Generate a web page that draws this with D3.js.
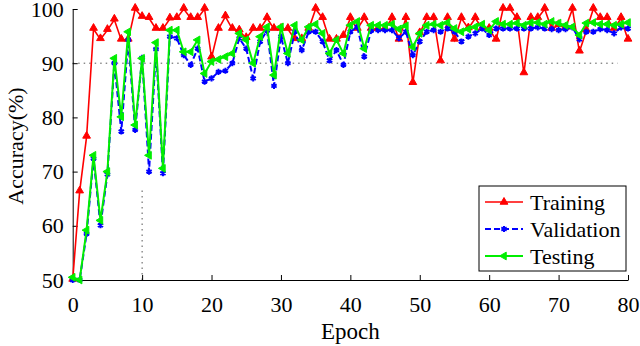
<!DOCTYPE html>
<html>
<head>
<meta charset="utf-8">
<script src="https://cdn.jsdelivr.net/npm/d3@7"></script>
<style>
  body { margin: 0; background: #fff; }
  .axis path, .axis line { stroke: #000; }
</style>
</head>
<body>
<div id="chart"></div>
<script>
// accuracy per epoch (0..80)
const epochs = d3.range(0, 81);
const training = [50,66.3,76.4,96.3,94.4,96.1,98,94.3,94.3,100,
  98.5,98.3,96.3,96.3,98.2,98.3,100,98.3,98.3,100,
  91,96.3,98.6,96.3,96,94.6,96.3,96.3,98.3,96.3,
  96.3,96.3,94.4,94.4,96.3,100,98.3,94.3,94.3,95,
  98.3,96.3,98.3,96.3,96.3,96.3,98.3,94.3,98.3,86.3,
  95.5,98.3,98.3,90.3,98.3,94.3,98.3,96.4,98.3,96.4,
  96.3,94.3,100,100,98.3,88.1,98.3,98.3,100,96.3,
  97,96.5,100,92.1,96,100,98.3,98.3,96.3,98.3,94.3];
const validation = [50,50,58.5,72.4,60.1,69.5,90,77.4,94.3,77.7,
  91,70,92.6,69.7,94.9,94.6,91.5,89.7,92.7,86.6,
  87.2,88.4,88.6,90,94.6,92.7,87.2,94,96,85.8,
  94.9,90,95.8,92.4,95.8,95.8,94,90.5,92.4,89.7,
  95.8,96.7,91.2,96,96.1,96.1,96.1,94.6,95.8,91.5,
  94,95.8,96.1,95.8,96.4,95.8,94,94.9,95.5,96.4,
  95.2,96.4,96.4,96.4,96.4,96.4,96.4,96.6,96.4,96.3,
  96.1,96.3,96.6,94.4,95.8,95.8,96.3,96.1,95.5,96.6,96.4];
const testing = [50.5,50,59.2,73,61,70,90.9,80.1,95.8,78.6,
  90.9,73,93.8,70.6,96.1,96.1,92.1,92.1,94.3,88.1,
  90.3,90.7,91.2,91.8,95.5,94.3,90,94.9,96.7,87.8,
  96.7,91.8,97,94.3,96.7,97.2,95.5,91.8,94.3,91.8,
  97,97.7,92.7,97,97,97,97.2,96.3,96.9,93,
  95.5,97,97.2,97,97.5,96.4,95.8,96.3,96.7,97.2,
  96.1,97.7,97.2,97.2,97.4,97,97.5,97.5,97.2,97.7,
  97.4,97,96.7,95.2,97.4,97.5,97.2,97.2,97,97.2,97.5];
const xTicks = [0,10,20,30,40,50,60,70,80];
const yTicks = [50,60,70,80,90,100];
const seriesNames = ["Training", "Validation", "Testing"];

const FONT = "'Times New Roman', 'Liberation Serif', 'DejaVu Serif', serif";
const W = 640, H = 346;
const margin = {top: 9, right: 12, bottom: 66, left: 72.7};
const width = W - margin.left - margin.right;
const height = H - margin.top - margin.bottom;

const svg = d3.select("#chart").append("svg")
    .attr("width", W).attr("height", H)
    .attr("font-family", FONT)
  .append("g")
    .attr("transform", `translate(${margin.left}, ${margin.top})`);

const x = d3.scaleLinear().domain([0, 80]).range([0, width]);
const y = d3.scaleLinear().domain([50, 100]).range([height, 0]);

// guide lines (dotted)
svg.append("line")
    .attr("x1", x(0)).attr("x2", x(78.5))
    .attr("y1", y(90)).attr("y2", y(90))
    .attr("stroke", "#555").attr("stroke-width", 1).attr("stroke-dasharray", "1.5,4");
svg.append("line")
    .attr("x1", x(10)).attr("x2", x(10))
    .attr("y1", y(50)).attr("y2", y(67))
    .attr("stroke", "#555").attr("stroke-width", 1).attr("stroke-dasharray", "1.5,4");

// axes, ticks pointing inward
svg.append("g")
    .attr("class", "axis")
    .attr("transform", `translate(0, ${height})`)
    .call(d3.axisBottom(x).tickValues(xTicks).tickSizeInner(-5).tickSizeOuter(0).tickPadding(16))
    .call(g => g.attr("font-family", FONT).attr("font-size", 22));

svg.append("g")
    .attr("class", "axis")
    .call(d3.axisLeft(y).tickValues(yTicks).tickSizeInner(-5).tickSizeOuter(0).tickPadding(9))
    .call(g => g.attr("font-family", FONT).attr("font-size", 22));

const series = [
  {name: seriesNames[0], values: training, color: "#ff0000", dash: null, width: 1.6, marker: "up"},
  {name: seriesNames[1], values: validation, color: "#0000ff", dash: "6,3", width: 2, marker: "star"},
  {name: seriesNames[2], values: testing, color: "#00ee00", dash: null, width: 2, marker: "left"}
];

const triangle = d3.symbol().type(d3.symbolTriangle).size(26);
const star = d3.symbol().type(d3.symbolAsterisk).size(26);

function drawMarker(sel, s) {
  if (s.marker === "star") {
    sel.attr("d", star).attr("fill", "none").attr("stroke", s.color).attr("stroke-width", 2);
  } else {
    sel.attr("d", triangle).attr("fill", s.color).attr("stroke", s.color).attr("stroke-width", 1);
  }
}

const line = d3.line().x((d, i) => x(epochs[i])).y(d => y(d));

series.forEach(function(s) {
  svg.append("path")
      .datum(s.values)
      .attr("d", line)
      .attr("fill", "none")
      .attr("stroke", s.color)
      .attr("stroke-width", s.width)
      .attr("stroke-dasharray", s.dash);

  const rot = s.marker === "left" ? -90 : 0;
  svg.selectAll(null)
      .data(s.values)
      .enter()
      .append("path")
      .attr("transform", (d, i) => `translate(${x(epochs[i])}, ${y(d) + (s.marker === "up" ? -1 : 0)}) rotate(${rot})`)
      .call(drawMarker, s);
});

// legend
const lg = svg.append("g").attr("transform", `translate(${479 - margin.left}, ${186 - margin.top})`);
lg.append("rect")
    .attr("width", 147).attr("height", 85)
    .attr("fill", "#fff").attr("stroke", "#000").attr("stroke-width", 1);
series.forEach(function(s, i) {
  const cy = 16 + i * 27;
  lg.append("line")
      .attr("x1", 6).attr("x2", 44).attr("y1", cy).attr("y2", cy)
      .attr("stroke", s.color).attr("stroke-width", s.width)
      .attr("stroke-dasharray", s.dash);
  lg.append("path")
      .attr("transform", `translate(25, ${cy}) rotate(${s.marker === "left" ? -90 : 0})`)
      .call(drawMarker, s);
  lg.append("text")
      .attr("x", 51).attr("y", cy).attr("dy", "0.35em")
      .attr("font-size", 22)
      .text(s.name);
});

// axis titles
svg.append("text")
    .attr("x", width / 2).attr("y", height + 59)
    .attr("text-anchor", "middle")
    .attr("font-size", 23)
    .text("Epoch");

svg.append("text")
    .attr("transform", `translate(${15 - margin.left}, ${146 - margin.top}) rotate(-90)`)
    .attr("text-anchor", "middle")
    .attr("dy", "0.35em")
    .attr("font-size", 22)
    .text("Accuracy(%)");
</script>
</body>
</html>
